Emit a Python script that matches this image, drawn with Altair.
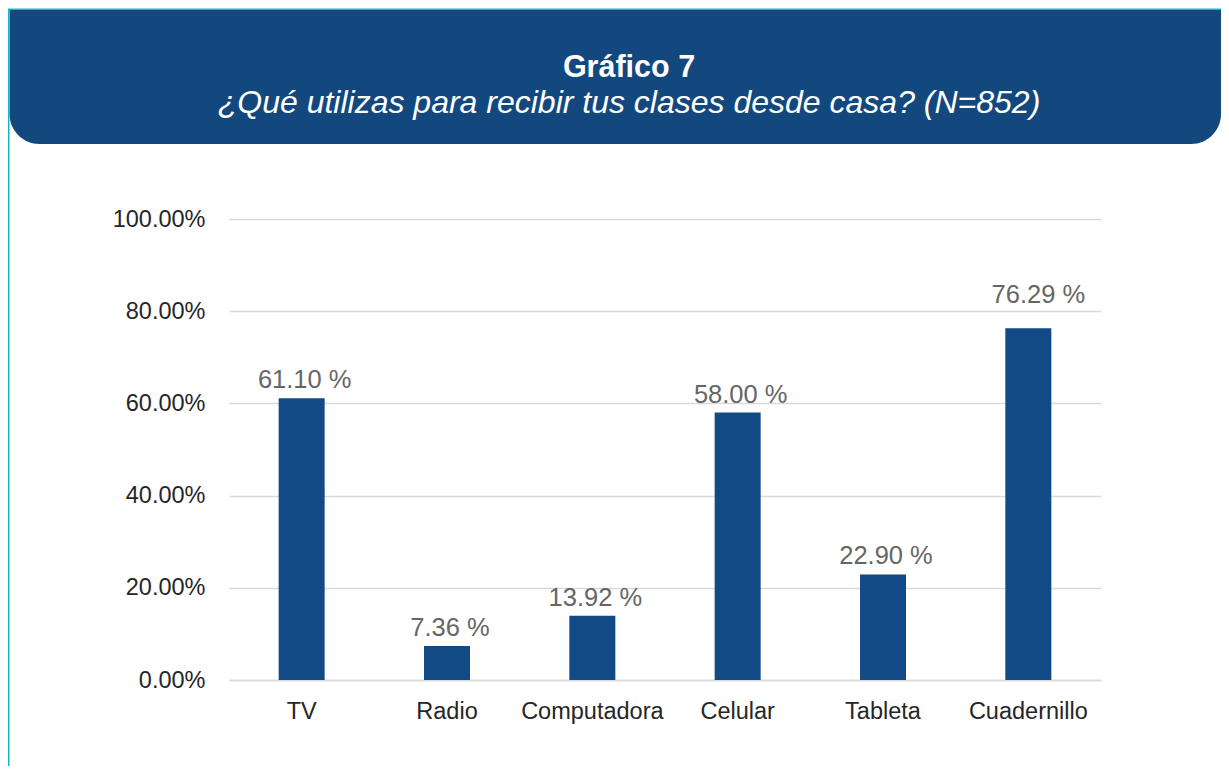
import altair as alt
import pandas as pd

categories = ["TV", "Radio", "Computadora", "Celular", "Tableta", "Cuadernillo"]
values = [61.10, 7.36, 13.92, 58.00, 22.90, 76.29]
title_line1 = "Gráfico 7"
title_line2 = "¿Qué utilizas para recibir tus clases desde casa? (N=852)"

BAR = "#114A85"
HEAD = "#13487F"
TEAL = "#1CB3C6"
FONT = "Liberation Sans"

df = pd.DataFrame({"cat": categories, "val": values})
one = pd.DataFrame({"k": [0]})

W, H = 872, 461
PL, PT, PR, PB = 221, 211, 120, 86

xenc = alt.X(
    "cat:N",
    sort=categories,
    title=None,
    scale=alt.Scale(paddingInner=0.6835, paddingOuter=0.34175),
    axis=alt.Axis(
        labelAngle=0,
        labelFont=FONT,
        labelFontSize=23.5,
        labelColor="#262626",
        labelPadding=19,
        ticks=False,
        domainColor="#d9d9d9",
        domainWidth=1.5,
        labelLimit=400,
    ),
)
yenc = alt.Y(
    "val:Q",
    title=None,
    scale=alt.Scale(domain=[0, 100], nice=False),
    axis=alt.Axis(
        values=[0, 20, 40, 60, 80, 100],
        labelExpr="format(datum.value, '.2f') + '%'",
        labelFont=FONT,
        labelFontSize=23.5,
        labelColor="#262626",
        labelPadding=24,
        ticks=False,
        domain=False,
        gridColor="#d9d9d9",
        gridWidth=1.5,
    ),
)

bars = alt.Chart(df).mark_bar(color=BAR).encode(x=xenc, y=yenc)

label_base = alt.Chart(df).transform_calculate(lbl="format(datum.val, '.2f') + ' %'")
label_style = dict(font=FONT, fontSize=25.5, color="#666666", baseline="alphabetic")
label_enc = dict(x=alt.X("cat:N", sort=categories), y="val:Q", text="lbl:N")

labels = (
    label_base.transform_filter("datum.cat != 'Cuadernillo'")
    .mark_text(dy=-10, dx=3, **label_style)
    .encode(**label_enc)
)
labels_last = (
    label_base.transform_filter("datum.cat == 'Cuadernillo'")
    .mark_text(dy=-25, dx=10, **label_style)
    .encode(**label_enc)
)

header = alt.Chart(one).mark_rect(
    color=HEAD, cornerRadiusBottomLeft=30, cornerRadiusBottomRight=30
).encode(
    x=alt.value(-PL + 1.5), x2=alt.value(W + PR), y=alt.value(-PT + 2), y2=alt.value(-75)
)

top_line = alt.Chart(one).mark_rule(color=TEAL, strokeWidth=1.5).encode(
    x=alt.value(-PL), x2=alt.value(W + PR), y=alt.value(-PT + 1.2)
)
left_line = alt.Chart(one).mark_rule(color=TEAL, strokeWidth=1.5).encode(
    x=alt.value(-PL + 0.75), y=alt.value(-PT + 1), y2=alt.value(H + PB)
)

t1 = alt.Chart(one).mark_text(
    text=title_line1, font=FONT, fontSize=30.5, fontWeight="bold", color="white",
    align="center", baseline="alphabetic"
).encode(x=alt.value(400), y=alt.value(-142))

t2 = alt.Chart(one).mark_text(
    text=title_line2, font=FONT, fontSize=32, fontStyle="italic", color="white",
    align="center", baseline="alphabetic"
).encode(x=alt.value(400), y=alt.value(-106))

chart = (
    alt.layer(header, top_line, left_line, t1, t2, bars, labels, labels_last)
    .properties(
        width=W,
        height=H,
        autosize=alt.AutoSizeParams(type="none"),
        padding={"left": PL, "top": PT, "right": PR, "bottom": PB},
        background="white",
    )
    .configure_view(stroke=None)
)

chart.save("out.html", embed_options={"renderer": "svg", "actions": False})
